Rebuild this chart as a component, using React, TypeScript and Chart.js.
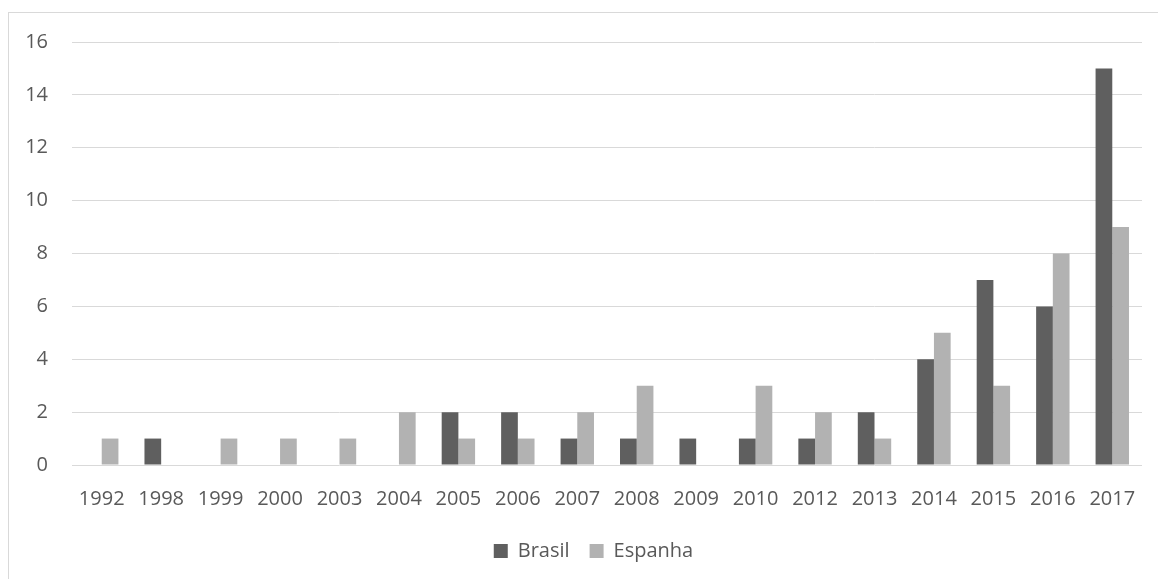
import React, { useEffect, useRef } from "react";
import { Chart, registerables } from "chart.js";

Chart.register(...registerables);

const categories = ["1992", "1998", "1999", "2000", "2003", "2004", "2005", "2006", "2007", "2008", "2009", "2010", "2012", "2013", "2014", "2015", "2016", "2017"];
const brasil = [0, 1, 0, 0, 0, 0, 2, 2, 1, 1, 1, 1, 1, 2, 4, 7, 6, 15];
const espanha = [1, 0, 1, 1, 1, 2, 1, 1, 2, 3, 0, 3, 2, 1, 5, 3, 8, 9];
const yMin = 0;
const yMax = 16;
const yStep = 2;

export default function App() {
  const ref = useRef<HTMLCanvasElement | null>(null);

  useEffect(() => {
    document.body.style.overflow = "hidden";
    const ctx = ref.current!;
    const textColor = "#595959";
    const font = { family: "'Open Sans', sans-serif", size: 20 };
    const shiftLegend = {
      id: "shiftLegend",
      afterLayout(chart: any) {
        if (chart.legend) {
          chart.legend.left += 18;
          chart.legend.right += 18;
        }
      },
    };
    const chart = new Chart(ctx, {
      type: "bar",
      data: {
        labels: categories,
        datasets: [
          { label: "Brasil", data: brasil, backgroundColor: "#5f5f5f", borderWidth: 0 },
          { label: "Espanha", data: espanha, backgroundColor: "#b2b2b2", borderWidth: 0 },
        ],
      },
      options: {
        responsive: false,
        animation: false,
        layout: { padding: { top: 29, right: 36, left: 0, bottom: 0 } },
        datasets: {
          bar: { categoryPercentage: 0.562, barPercentage: 1 },
        },
        plugins: {
          legend: {
            position: "bottom",
            labels: {
              color: textColor,
              font,
              boxWidth: 14,
              boxHeight: 14,
              padding: 20,
            },
          },
          tooltip: { enabled: false },
        },
        scales: {
          x: {
            grid: { display: false, drawTicks: false },
            border: { display: false },
            ticks: { color: textColor, font, padding: 22, maxRotation: 0, autoSkip: false },
            afterFit: (s: any) => {
              s.height = 56;
            },
          },
          y: {
            min: yMin,
            max: yMax,
            grid: { color: "#d9d9d9", lineWidth: 1, drawTicks: false },
            border: { display: false },
            ticks: { color: textColor, font, padding: 24, stepSize: yStep },
            afterFit: (s: any) => {
              s.width = 63;
              s.paddingTop = 12;
              s.paddingBottom = 12;
            },
          },
        },
      },
      plugins: [shiftLegend],
    });
    return () => chart.destroy();
  }, []);

  return (
    <div
      style={{
        position: "absolute",
        left: 8,
        top: 12,
        width: 1220,
        height: 620,
        border: "1px solid #d9d9d9",
        boxSizing: "border-box",
        background: "#fff",
      }}
    >
      <canvas ref={ref} width={1169} height={558} style={{ position: "absolute", left: 0, top: 0 }} />
    </div>
  );
}
